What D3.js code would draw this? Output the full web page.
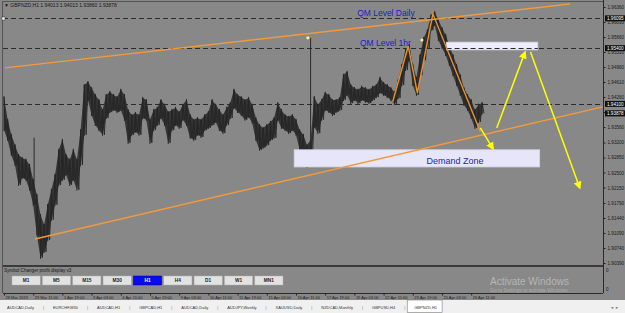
<!DOCTYPE html>
<html>
<head>
<meta charset="utf-8">
<script src="https://cdn.jsdelivr.net/npm/d3@7/dist/d3.min.js"></script>
<style>
  html, body { margin: 0; padding: 0; background: #f0f0f0; }
  svg { display: block; font-family: "Liberation Sans", Arial, sans-serif; }
</style>
</head>
<body>
<div id="chart"></div>
<script>
// hourly GBPNZD, one sample every 4th bar (high / low)
const highs = [
  1.9426, 1.9373, 1.9338, 1.9314, 1.9291, 1.9284, 1.9280, 1.9268, 1.9233, 1.9198,
  1.9151, 1.9128, 1.9175, 1.9210, 1.9245, 1.9303, 1.9326, 1.9291, 1.9280, 1.9303,
  1.9280, 1.9349, 1.9454, 1.9461, 1.9447, 1.9431, 1.9419, 1.9396, 1.9431, 1.9438,
  1.9431, 1.9426, 1.9443, 1.9431, 1.9396, 1.9384, 1.9389, 1.9384, 1.9424, 1.9419,
  1.9373, 1.9396, 1.9401, 1.9419, 1.9408, 1.9391, 1.9396, 1.9401, 1.9391, 1.9408,
  1.9419, 1.9384, 1.9373, 1.9377, 1.9373, 1.9384, 1.9391, 1.9419, 1.9408, 1.9396,
  1.9384, 1.9401, 1.9412, 1.9443, 1.9431, 1.9426, 1.9419, 1.9424, 1.9408, 1.9377,
  1.9361, 1.9354, 1.9361, 1.9368, 1.9377, 1.9412, 1.9396, 1.9384, 1.9380, 1.9384,
  1.9373, 1.9349, 1.9338, 1.9314, 1.9326, 1.9426, 1.9408, 1.9419, 1.9436, 1.9431,
  1.9419, 1.9419, 1.9424, 1.9478, 1.9485, 1.9454, 1.9447, 1.9443, 1.9450, 1.9447,
  1.9443, 1.9450, 1.9454, 1.9471, 1.9459, 1.9454, 1.9447, 1.9438, 1.9466, 1.9501,
  1.9536, 1.9547, 1.9501, 1.9471, 1.9524, 1.9564, 1.9582, 1.9617, 1.9624, 1.9606,
  1.9587, 1.9571, 1.9547, 1.9524, 1.9501, 1.9477, 1.9447, 1.9431, 1.9419, 1.9396,
  1.9408, 1.9412
];
const lows = [
  1.9349, 1.9326, 1.9291, 1.9268, 1.9221, 1.9238, 1.9233, 1.9210, 1.9175, 1.9105,
  1.9051, 1.9065, 1.9093, 1.9140, 1.9175, 1.9221, 1.9233, 1.9245, 1.9221, 1.9233,
  1.9210, 1.9268, 1.9338, 1.9419, 1.9384, 1.9361, 1.9349, 1.9338, 1.9377, 1.9391,
  1.9396, 1.9391, 1.9396, 1.9373, 1.9319, 1.9338, 1.9345, 1.9338, 1.9377, 1.9373,
  1.9319, 1.9349, 1.9361, 1.9377, 1.9361, 1.9319, 1.9349, 1.9361, 1.9354, 1.9373,
  1.9361, 1.9331, 1.9326, 1.9338, 1.9333, 1.9349, 1.9354, 1.9361, 1.9368, 1.9349,
  1.9342, 1.9361, 1.9377, 1.9401, 1.9391, 1.9384, 1.9373, 1.9380, 1.9366, 1.9326,
  1.9303, 1.9308, 1.9314, 1.9326, 1.9331, 1.9373, 1.9354, 1.9349, 1.9342, 1.9349,
  1.9338, 1.9303, 1.9287, 1.9263, 1.9268, 1.9356, 1.9342, 1.9373, 1.9396, 1.9391,
  1.9384, 1.9391, 1.9396, 1.9419, 1.9431, 1.9412, 1.9419, 1.9412, 1.9419, 1.9415,
  1.9412, 1.9419, 1.9426, 1.9436, 1.9431, 1.9426, 1.9419, 1.9410, 1.9424, 1.9454,
  1.9489, 1.9512, 1.9454, 1.9431, 1.9477, 1.9512, 1.9541, 1.9582, 1.9594, 1.9559,
  1.9541, 1.9524, 1.9501, 1.9477, 1.9454, 1.9431, 1.9408, 1.9396, 1.9377, 1.9354,
  1.9368, 1.9388
];
// long single-bar wicks
const wickBars = [33, 336];
const wickHighs = [1.9331, 1.9564];
const wickLows = [1.9175, 1.9268];

const priceTicks = [1.96360, 1.96010, 1.95660, 1.95310, 1.94960, 1.94610, 1.94260, 1.93910, 1.93560,
  1.93200, 1.92850, 1.92500, 1.92150, 1.91790, 1.91440, 1.91090, 1.90740, 1.90390];
const levelPrices = [1.96095, 1.95400, 1.94100];
const lastPrice = 1.93878;

const timeBars = [0, 32, 64, 96, 128, 160, 192, 224, 256, 288, 320, 352, 384, 416, 448, 480, 512];
const timeLabels = ["28 Mar 2019", "29 Mar 11:00", "1 Apr 19:00", "3 Apr 03:00", "4 Apr 11:00",
  "5 Apr 19:00", "9 Apr 03:00", "10 Apr 11:00", "11 Apr 19:00", "15 Apr 03:00", "16 Apr 11:00",
  "17 Apr 19:00", "19 Apr 03:00", "22 Apr 11:00", "23 Apr 19:00", "25 Apr 03:00", "26 Apr 11:00"];

// drawn objects: [bar, price]
const trendUpper = [[1, 1.9494], [620, 1.9643]];
const trendLower = [[34, 1.9095], [656, 1.9403]];
const zigzag = [[426, 1.9415], [443, 1.9545], [453, 1.9436], [470, 1.9620], [522, 1.9345]];
const arrows = [
  [[522, 1.9354], [536, 1.9305]],
  [[540, 1.9354], [571, 1.9531]],
  [[577, 1.9531], [631, 1.9214]]
];
const zoneQM = [[485, 1.9554], [585, 1.9536]];
const zoneDemand = [[318, 1.9303], [587, 1.9263]];
const marks = [[333, 1.9564], [458, 1.9559]];

const buttonLabels = ["M1", "M5", "M15", "M30", "H1", "H4", "D1", "W1", "MN1"];
const tabLabels = ["AUDCAD,Daily", "EURCHF,M30", "AUDCAD,H1", "GBPCAD,H1", "AUDCAD,Daily",
  "AUDJPY,Weekly", "XAUUSD,Daily", "NZDCAD,Monthly", "GBPUSD,H4", "GBPNZD,H1"];

const W = 625, H = 313;
const bg = "#888888";
const axisX = 603, mainBottom = 265, timeY = 293;

const svg = d3.select("#chart").append("svg").attr("width", W).attr("height", H);

svg.append("rect").attr("width", W).attr("height", 300).attr("fill", bg);
svg.append("rect").attr("y", 300).attr("width", W).attr("height", 13).attr("fill", "#f0f0f0");

const x = d3.scaleLinear().domain([0, 656]).range([4, 602.6]);
const y = d3.scaleLinear().domain([1.90390, 1.96360]).range([263, 7]);

const defs = svg.append("defs");
defs.append("clipPath").attr("id", "clip")
  .append("rect").attr("x", 3).attr("y", 1).attr("width", axisX - 3).attr("height", mainBottom - 1);
defs.append("marker").attr("id", "head")
  .attr("viewBox", "0 0 10 10").attr("refX", 8).attr("refY", 5)
  .attr("markerWidth", 8).attr("markerHeight", 8)
  .attr("markerUnits", "userSpaceOnUse").attr("orient", "auto")
  .append("path").attr("d", "M0,0L10,5L0,10z").attr("fill", "#ffff00");

// frame
svg.append("line").attr("x1", 2.5).attr("x2", 2.5).attr("y1", 1).attr("y2", timeY).attr("stroke", "#555");
svg.append("line").attr("x1", 2.5).attr("x2", axisX).attr("y1", 1.5).attr("y2", 1.5).attr("stroke", "#555");

const g = svg.append("g").attr("clip-path", "url(#clip)");

// price band
const band = d3.area()
  .x((d, i) => x(i * 4))
  .y0((d, i) => y(lows[i]))
  .y1(d => y(d));
g.append("path").datum(highs).attr("d", band).attr("fill", "#353535");
// saw-tooth through the bar extremes, gives the hourly-bar texture
const saw = [];
highs.forEach((h, i) => {
  saw.push([i * 4, h]);
  saw.push([i * 4 + 2, lows[i]]);
});
g.append("path").datum(saw)
  .attr("d", d3.line().x(d => x(d[0])).y(d => y(d[1])))
  .attr("fill", "none").attr("stroke", "#262626").attr("stroke-width", 0.9);
g.selectAll("line.bar").data(highs).join("line").attr("class", "bar")
  .attr("x1", (d, i) => x(i * 4)).attr("x2", (d, i) => x(i * 4))
  .attr("y1", d => y(d) - 1).attr("y2", (d, i) => y(lows[i]) + 1)
  .attr("stroke", "#262626").attr("stroke-width", 1);
g.selectAll("line.wick").data(wickBars).join("line").attr("class", "wick")
  .attr("x1", d => x(d)).attr("x2", d => x(d))
  .attr("y1", (d, i) => y(wickHighs[i])).attr("y2", (d, i) => y(wickLows[i]))
  .attr("stroke", "#2a2a2a").attr("stroke-width", 1);

// horizontal levels
g.selectAll("line.level").data(levelPrices).join("line").attr("class", "level")
  .attr("x1", 3).attr("x2", axisX)
  .attr("y1", d => Math.round(y(d)) + 0.5).attr("y2", d => Math.round(y(d)) + 0.5)
  .attr("stroke", "#2b2b2b").attr("stroke-dasharray", "5,3");
svg.append("rect").attr("x", 2).attr("y", Math.round(y(levelPrices[0])) - 1)
  .attr("width", 3).attr("height", 3).attr("fill", "#fff").attr("stroke", "#333").attr("stroke-width", 0.5);

// zones
const zone = (pts, fill) => g.append("rect")
  .attr("x", x(pts[0][0])).attr("y", y(pts[0][1]))
  .attr("width", x(pts[1][0]) - x(pts[0][0]))
  .attr("height", y(pts[1][1]) - y(pts[0][1]))
  .attr("fill", fill).attr("stroke", "#d4d4ec").attr("stroke-width", 0.8);
zone(zoneDemand, "#e6e6f8");
zone(zoneQM, "#ececfa");
g.append("line").attr("x1", x(zoneQM[0][0])).attr("x2", x(zoneQM[1][0]))
  .attr("y1", Math.round(y(levelPrices[1])) + 0.5).attr("y2", Math.round(y(levelPrices[1])) + 0.5)
  .attr("stroke", "#2b2b2b").attr("stroke-dasharray", "5,3");

// trend lines
const line = d3.line().x(d => x(d[0])).y(d => y(d[1]));
[trendUpper, trendLower].forEach(t => {
  g.append("path").datum(t).attr("d", line)
    .attr("fill", "none").attr("stroke", "#f09a3c").attr("stroke-width", 1.4);
});
g.append("path").datum(zigzag).attr("d", line)
  .attr("fill", "none").attr("stroke", "#e8922f").attr("stroke-width", 1.4);

// yellow arrows
arrows.forEach(a => {
  g.append("path").datum(a).attr("d", line)
    .attr("fill", "none").attr("stroke", "#ffff00").attr("stroke-width", 1.5)
    .attr("marker-end", "url(#head)");
});
g.selectAll("circle.mark").data(marks).join("circle").attr("class", "mark")
  .attr("cx", d => x(d[0])).attr("cy", d => y(d[1])).attr("r", 1.6)
  .attr("fill", "#f4f08a");

// labels
g.append("text").attr("x", x(387)).attr("y", y(1.9622) + 3)
  .attr("font-size", 8.5).attr("fill", "#1c1cd0").text("QM Level Daily");
g.append("text").attr("x", x(390)).attr("y", y(1.9552) + 3)
  .attr("font-size", 8.5).attr("fill", "#1c1cd0").text("QM Level 1hr");
g.append("text").attr("x", x(463)).attr("y", y(1.9279) + 3.5)
  .attr("font-size", 9).attr("fill", "#1e1ea0").text("Demand Zone");

// header
svg.append("text").attr("x", 4).attr("y", 7).attr("font-size", 5).attr("fill", "#1a1a1a")
  .text("\u25BC GBPNZD,H1  1.94013 1.94013 1.93860 1.93878");

// price axis
svg.append("line").attr("x1", axisX + 0.5).attr("x2", axisX + 0.5).attr("y1", 0).attr("y2", timeY)
  .attr("stroke", "#2a2a2a");
const yAxis = svg.append("g").attr("transform", `translate(${axisX + 0.5},0)`)
  .call(d3.axisRight(y).tickValues(priceTicks).tickFormat(d3.format(".5f")).tickSize(2).tickPadding(2));
yAxis.select(".domain").remove();
yAxis.selectAll("line").attr("stroke", "#222");
yAxis.selectAll("text").attr("font-size", 4.6).attr("fill", "#1a1a1a").attr("font-family", "Liberation Sans, Arial");

const hl = svg.selectAll("g.hl").data(levelPrices.concat([lastPrice])).join("g").attr("class", "hl")
  .attr("transform", d => `translate(${axisX + 2},${y(d)})`);
hl.append("rect").attr("x", 0).attr("y", -3).attr("width", 20).attr("height", 6).attr("fill", "#111");
hl.append("text").attr("x", 2).attr("y", 1.7).attr("font-size", 4.6).attr("fill", "#fff")
  .text(d => d3.format(".5f")(d));

// sub window
svg.append("rect").attr("x", 3).attr("y", mainBottom).attr("width", axisX - 3).attr("height", 2).attr("fill", "#3a3a3a");
svg.append("text").attr("x", 4).attr("y", 272).attr("font-size", 4.6).attr("fill", "#1a1a1a")
  .text("Symbol Changer profit display v3");
const bx = d3.scaleBand().domain(buttonLabels).range([12, 283]).paddingInner(0.07);
const btn = svg.selectAll("g.btn").data(buttonLabels).join("g").attr("class", "btn")
  .attr("transform", d => `translate(${bx(d)},276)`);
btn.append("rect").attr("width", bx.bandwidth()).attr("height", 9)
  .attr("fill", d => d === "H1" ? "#0a0af0" : "#e2e2e2")
  .attr("stroke", d => d === "H1" ? "#00008a" : "#b0b0b0").attr("stroke-width", 0.5);
btn.append("text").attr("x", bx.bandwidth() / 2).attr("y", 6.3).attr("text-anchor", "middle")
  .attr("font-size", 4.8).attr("font-weight", "bold")
  .attr("fill", d => d === "H1" ? "#ffffff" : "#222").text(d => d);
svg.append("text").attr("x", axisX + 3).attr("y", 271.5).attr("font-size", 4.6).attr("fill", "#1a1a1a").text("0");
svg.append("text").attr("x", axisX + 3).attr("y", 290.5).attr("font-size", 4.6).attr("fill", "#1a1a1a").text("0");

// watermark
svg.append("text").attr("x", 490).attr("y", 285).attr("font-size", 10)
  .attr("fill", "#c4c4c4").attr("opacity", 0.75).text("Activate Windows");
svg.append("text").attr("x", 490).attr("y", 291.5).attr("font-size", 5)
  .attr("fill", "#c4c4c4").attr("opacity", 0.6).text("Go to Settings to activate Windows.");

// time axis
svg.append("line").attr("x1", 3).attr("x2", axisX).attr("y1", timeY + 0.5).attr("y2", timeY + 0.5).attr("stroke", "#2a2a2a");
const xAxis = svg.append("g").attr("transform", `translate(0,${timeY + 0.5})`)
  .call(d3.axisBottom(x).tickValues(timeBars).tickFormat((d, i) => timeLabels[i]).tickSize(2).tickPadding(1));
xAxis.select(".domain").remove();
xAxis.selectAll("line").attr("stroke", "#222");
xAxis.selectAll("text").attr("text-anchor", "start").attr("dx", 1).attr("dy", "0.5em")
  .attr("font-size", 4).attr("fill", "#1a1a1a").attr("font-family", "Liberation Sans, Arial");

// tabs
const tabs = svg.append("g").attr("font-size", 4).attr("fill", "#333");
let tx = 7;
tabLabels.forEach((t, i) => {
  const txt = tabs.append("text").attr("x", tx).attr("y", 308.5).text(t);
  const w = txt.node().getComputedTextLength();
  if (i === tabLabels.length - 1) {
    tabs.insert("rect", "text").attr("x", tx - 7).attr("y", 300).attr("width", w + 12).attr("height", 12.5)
      .attr("fill", "#ffffff").attr("stroke", "#7a7a7a").attr("stroke-width", 0.6);
  } else {
    tabs.append("text").attr("x", tx + w + 9).attr("y", 308.5).attr("fill", "#777").text("|");
  }
  tx += w + 19;
});
tabs.append("text").attr("x", 610).attr("y", 308.5).attr("fill", "#777").text("\u25C4  \u25BA");
</script>
</body>
</html>
